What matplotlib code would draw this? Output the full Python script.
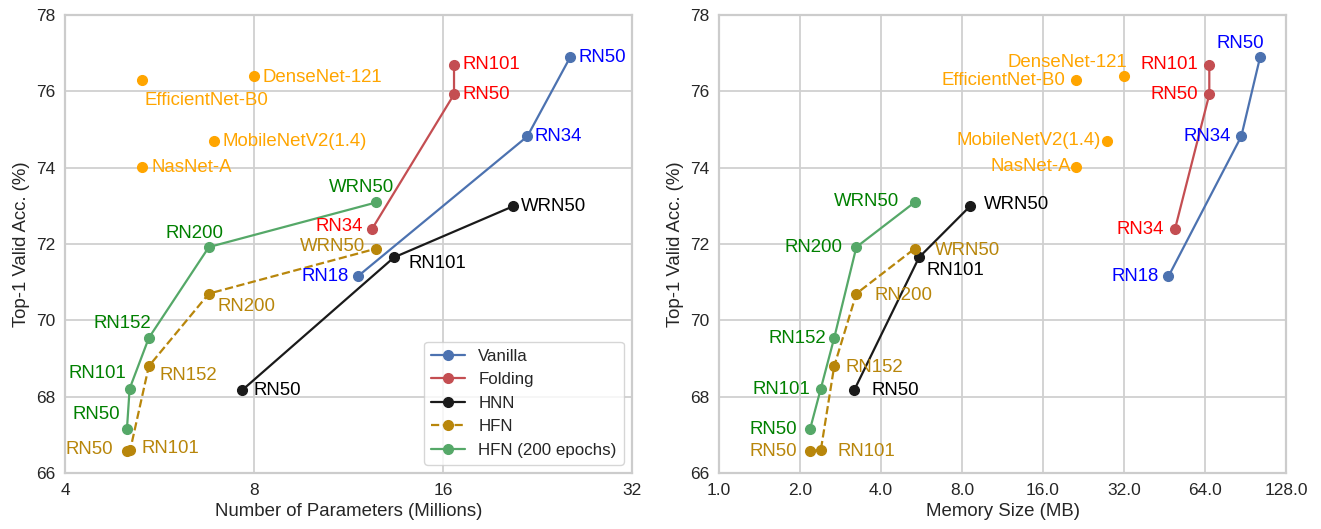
import matplotlib
matplotlib.use("Agg")
import matplotlib.pyplot as plt
import seaborn as sns

sns.set_style("whitegrid")
plt.rcParams["font.family"] = ["Liberation Sans", "DejaVu Sans"]
plt.rcParams["font.size"] = 12

# --- data: (params in millions, memory in MB, top-1 acc) ---
van_names = ["RN18", "RN34", "RN50"]
van_params = [11.7, 21.8, 25.5]
van_mem = [46.8, 87.3, 102.5]
van_acc = [71.15, 74.82, 76.89]

fold_names = ["RN34", "RN50", "RN101"]
fold_params = [12.33, 16.66, 16.66]
fold_mem = [49.5, 66.4, 66.4]
fold_acc = [72.39, 75.92, 76.70]

hnn_names = ["RN50", "RN101", "WRN50"]
hnn_params = [7.66, 13.37, 20.7]
hnn_mem = [3.18, 5.54, 8.57]
hnn_acc = [68.17, 71.65, 72.99]

hfn_names = ["RN50", "RN101", "RN152", "RN200", "WRN50"]
hfn_params = [5.02, 5.08, 5.44, 6.78, 12.53]
hfn_mem = [2.18, 2.39, 2.68, 3.24, 5.34]
hfn_acc = [66.58, 66.60, 68.80, 70.70, 71.88]

hfn200_names = ["RN50", "RN101", "RN152", "RN200", "WRN50"]
hfn200_params = [5.02, 5.07, 5.44, 6.78, 12.53]
hfn200_mem = [2.18, 2.39, 2.68, 3.24, 5.33]
hfn200_acc = [67.15, 68.21, 69.54, 71.92, 73.09]

base_names = ["EfficientNet-B0", "DenseNet-121", "MobileNetV2(1.4)", "NasNet-A"]
base_params = [5.3, 8.0, 6.9, 5.3]
base_mem = [21.2, 32.0, 27.6, 21.2]
base_acc = [76.31, 76.39, 74.71, 74.02]

# label offsets in pixels (dx, dy, ha) for each panel
off_left = {
    "van": [(-9, 0, "right"), (7, 0, "left"), (8, 0, "left")],
    "fold": [(-9, 3, "right"), (8, 0, "left"), (8, 0, "left")],
    "hnn": [(11, 0, "left"), (14, -6, "left"), (8, 0, "left")],
    "hfn": [(-14, 1, "right"), (11, 2, "left"), (11, -9, "left"), (9, -13, "left"), (-11, 2, "right")],
    "hfn200": [(-7, 15, "right"), (-3, 15, "right"), (2, 14, "right"), (-14, 14, "center"), (-15, 15, "center")],
    "base": [(3, -21, "left"), (8, -1, "left"), (9, -1, "left"), (10, -1, "left")],
}
off_right = {
    "van": [(-10, 0, "right"), (-10, 0, "right"), (-20, 14, "center")],
    "fold": [(-11, 0, "right"), (-11, 0, "right"), (-11, 0, "right")],
    "hnn": [(17, 0, "left"), (7, -13, "left"), (14, 2, "left")],
    "hfn": [(-13, -1, "right"), (17, -1, "left"), (11, -1, "left"), (18, -2, "left"), (20, -2, "left")],
    "hfn200": [(-13, 0, "right"), (-11, -1, "right"), (-8, -1, "right"), (-14, 0, "right"), (-15, 1, "right")],
    "base": [(-11, -1, "right"), (3, 14, "right"), (-6, 0, "right"), (-5, 0, "right")],
}

GOLD = "#B8860B"
TXT = 13.4


def label_points(ax, xs, ys, names, offs, color):
    for x, y, n, (dx, dy, ha) in zip(xs, ys, names, offs):
        ax.annotate(n, (x, y), xytext=(dx, dy), textcoords="offset pixels",
                    ha=ha, va="center", color=color, fontsize=TXT)


def draw_panel(ax, use_mem, offs):
    pick = (lambda p, m: m) if use_mem else (lambda p, m: p)
    series = [
        ("van", "Vanilla", van_names, pick(van_params, van_mem), van_acc, "#4C72B0", "-", "blue"),
        ("fold", "Folding", fold_names, pick(fold_params, fold_mem), fold_acc, "#C44E52", "-", "red"),
        ("hnn", "HNN", hnn_names, pick(hnn_params, hnn_mem), hnn_acc, "#1a1a1a", "-", "black"),
        ("hfn", "HFN", hfn_names, pick(hfn_params, hfn_mem), hfn_acc, GOLD, "--", GOLD),
        ("hfn200", "HFN (200 epochs)", hfn200_names, pick(hfn200_params, hfn200_mem), hfn200_acc, "#55A868", "-", "green"),
    ]
    for key, lab, names, xs, ys, c, ls, tc in series:
        ax.plot(xs, ys, ls, color=c, marker="o", markersize=7, linewidth=1.6, label=lab)
        label_points(ax, xs, ys, names, offs[key], tc)

    bx = pick(base_params, base_mem)
    ax.plot(bx, base_acc, "o", color="orange", markersize=7, linestyle="none")
    label_points(ax, bx, base_acc, base_names, offs["base"], "orange")

    ax.set_xscale("log", base=2)
    ax.set_ylim(66, 78)
    ax.set_yticks(range(66, 79, 2))
    ax.set_ylabel("Top-1 Valid Acc. (%)", fontsize=TXT)
    ax.tick_params(labelsize=12.5)
    ax.minorticks_off()
    ax.grid(True, color="#d0d0d0", linewidth=1.3)
    for s in ax.spines.values():
        s.set_color("#cccccc")
        s.set_linewidth(1.6)


fig = plt.figure(figsize=(13.21, 5.29), dpi=100)
ax1 = fig.add_axes([65 / 1321, 56 / 529, 567 / 1321, 458 / 529])
ax2 = fig.add_axes([719 / 1321, 56 / 529, 567 / 1321, 458 / 529])

draw_panel(ax1, False, off_left)
ax1.set_xlim(4, 32)
ax1.set_xticks([4, 8, 16, 32])
ax1.set_xticklabels(["4", "8", "16", "32"])
ax1.set_xlabel("Number of Parameters (Millions)", fontsize=TXT)
ax1.legend(loc="lower right", fontsize=12.2, frameon=True)

draw_panel(ax2, True, off_right)
ax2.set_xlim(1, 128)
mem_ticks = [1, 2, 4, 8, 16, 32, 64, 128]
ax2.set_xticks(mem_ticks)
ax2.set_xticklabels([f"{t:.1f}" for t in mem_ticks])
ax2.set_xlabel("Memory Size (MB)", fontsize=TXT)

fig.savefig("out.png", dpi=100)
